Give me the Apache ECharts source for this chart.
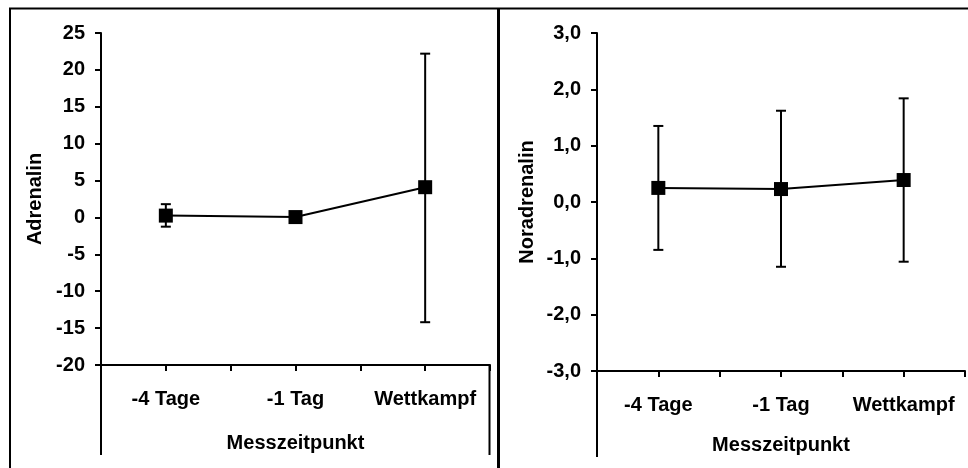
<!DOCTYPE html>
<html>
<head>
<meta charset="utf-8">
<script src="https://cdn.jsdelivr.net/npm/echarts@6/dist/echarts.min.js"></script>
<style>
html,body{margin:0;padding:0;background:#fff;}
#chart{width:968px;height:468px;}
</style>
</head>
<body>
<div id="chart"></div>
<script>
// ---- data ----
var categories = ['-4 Tage', '-1 Tag', 'Wettkampf'];
var adrenalinMean = [0.25, 0.05, 4.1];
var adrenalinLow  = [-1.25, -0.25, -14.2];
var adrenalinHigh = [1.8, 0.35, 22.2];
var noradrenalinMean = [0.25, 0.23, 0.39];
var noradrenalinLow  = [-0.85, -1.15, -1.06];
var noradrenalinHigh = [1.35, 1.62, 1.84];
var xAxisTitle = 'Messzeitpunkt';
var leftTitle = 'Adrenalin';
var rightTitle = 'Noradrenalin';

var FONT = 'Arial, "Liberation Sans", sans-serif';
var FS = 20;

function pts(mean) { return mean.map(function (v, i) { return [i + 0.5, v]; }); }
function errs(lo, hi) { return lo.map(function (v, i) { return [i + 0.5, v, hi[i]]; }); }

function errRender(params, api) {
  var x = api.value(0);
  var a = api.coord([x, api.value(1)]);
  var b = api.coord([x, api.value(2)]);
  var w = 5;
  var st = { stroke: '#000', lineWidth: 2 };
  return {
    type: 'group',
    children: [
      { type: 'line', shape: { x1: a[0], y1: a[1], x2: b[0], y2: b[1] }, style: st },
      { type: 'line', shape: { x1: a[0] - w, y1: a[1], x2: a[0] + w, y2: a[1] }, style: st },
      { type: 'line', shape: { x1: b[0] - w, y1: b[1], x2: b[0] + w, y2: b[1] }, style: st }
    ]
  };
}

function xAxisCfg(gi, gap) {
  return {
    type: 'value', gridIndex: gi, min: 0, max: 3, interval: 0.5,
    splitLine: { show: false },
    axisLine: { show: true, onZero: false, lineStyle: { color: '#000', width: 2 } },
    axisTick: { show: true, length: 6, lineStyle: { color: '#000', width: 2 } },
    axisLabel: {
      margin: 24, color: '#000', fontFamily: FONT, fontSize: FS, fontWeight: 'bold',
      showMinLabel: true, showMaxLabel: true,
      formatter: function (v) {
        var f = v - Math.floor(v);
        return Math.abs(f - 0.5) < 1e-6 ? categories[Math.floor(v)] : '';
      }
    },
    name: xAxisTitle, nameLocation: 'middle', nameGap: gap,
    nameTextStyle: { color: '#000', fontFamily: FONT, fontSize: FS, fontWeight: 'bold' }
  };
}

function yAxisCfg(gi, min, max, interval, fmt, name, gap) {
  return {
    type: 'value', gridIndex: gi, min: min, max: max, interval: interval,
    splitLine: { show: false },
    axisLine: { show: true, onZero: false, lineStyle: { color: '#000', width: 2 } },
    axisTick: { show: true, length: 6, lineStyle: { color: '#000', width: 2 } },
    axisLabel: { margin: 16, color: '#000', fontFamily: FONT, fontSize: FS, fontWeight: 'bold', formatter: fmt },
    name: name, nameLocation: 'middle', nameGap: gap, nameRotate: 90,
    nameTextStyle: { color: '#000', fontFamily: FONT, fontSize: FS, fontWeight: 'bold' }
  };
}

var chart = echarts.init(document.getElementById('chart'), null, { renderer: 'canvas' });
var lineSt = { stroke: '#000', lineWidth: 2 };
chart.setOption({
  backgroundColor: '#fff',
  animation: false,
  grid: [
    { left: 101, top: 33, width: 389, height: 332, containLabel: false },
    { left: 597, top: 33, width: 370, height: 338, containLabel: false }
  ],
  xAxis: [xAxisCfg(0, 68), xAxisCfg(1, 64)],
  yAxis: [
    yAxisCfg(0, -20, 25, 5, function (v) { return String(v); }, leftTitle, 56),
    yAxisCfg(1, -3, 3, 1, function (v) { return v.toFixed(1).replace('.', ','); }, rightTitle, 60)
  ],
  graphic: [
    { type: 'line', shape: { x1: 9, y1: 8.5, x2: 968, y2: 8.5 }, style: lineSt },
    { type: 'line', shape: { x1: 10, y1: 8, x2: 10, y2: 468 }, style: lineSt },
    { type: 'line', shape: { x1: 498.5, y1: 8, x2: 498.5, y2: 468 }, style: { stroke: '#000', lineWidth: 3 } },
    { type: 'polyline', shape: { points: [[101, 365], [101, 455]] }, style: lineSt },
    { type: 'polyline', shape: { points: [[489.5, 365], [489.5, 455]] }, style: lineSt },
    { type: 'polyline', shape: { points: [[597, 371], [597, 457]] }, style: lineSt }
  ],
  series: [
    { type: 'custom', xAxisIndex: 0, yAxisIndex: 0, renderItem: errRender, data: errs(adrenalinLow, adrenalinHigh), z: 2 },
    { type: 'line', xAxisIndex: 0, yAxisIndex: 0, data: pts(adrenalinMean), symbol: 'rect', symbolSize: 14,
      itemStyle: { color: '#000' }, lineStyle: { color: '#000', width: 2 }, z: 3 },
    { type: 'custom', xAxisIndex: 1, yAxisIndex: 1, renderItem: errRender, data: errs(noradrenalinLow, noradrenalinHigh), z: 2 },
    { type: 'line', xAxisIndex: 1, yAxisIndex: 1, data: pts(noradrenalinMean), symbol: 'rect', symbolSize: 14,
      itemStyle: { color: '#000' }, lineStyle: { color: '#000', width: 2 }, z: 3 }
  ]
});
</script>
</body>
</html>
